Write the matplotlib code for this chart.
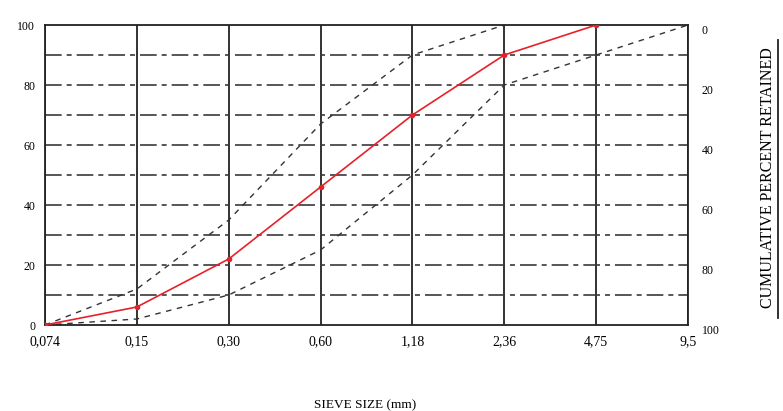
import numpy as np
import matplotlib.pyplot as plt

SIEVES = ["0,074", "0,15", "0,30", "0,60", "1,18", "2,36", "4,75", "9,5"]

# percent passing of the sample (red) - ends at 4,75
SAMPLE = [0, 6, 22, 46, 70, 90, 100]
# grading envelope (dashed)
UPPER = [0, 12, 35, 67, 90, 100]
LOWER = [0, 2, 10, 25, 50, 80, 90, 100]

LEFT_TICKS = [0, 20, 40, 60, 80, 100]
RIGHT_TICKS = [0, 20, 40, 60, 80, 100]

plt.rcParams["font.family"] = ["Liberation Serif", "DejaVu Serif"]

fig = plt.figure(figsize=(7.83, 4.11), dpi=100)
ax = fig.add_axes([45 / 783, 1 - 325 / 411, 643 / 783, 300 / 411])

X = np.arange(len(SIEVES))
ax.set_xlim(0, len(SIEVES) - 1)
ax.set_ylim(0, 100)

# grid: solid verticals, dash-dot horizontals
for x in X:
    ax.axvline(x, color="#222222", lw=1.3, zorder=1)
for y in range(10, 100, 10):
    ax.axhline(y, color="#3a3a3a", lw=1.2, ls=(0, (10, 3, 3, 3)), zorder=1)

ax.plot(X[:len(UPPER)], UPPER, color="#333333", lw=1.0, ls=(0, (4, 4)), zorder=2)
ax.plot(X[:len(LOWER)], LOWER, color="#333333", lw=1.0, ls=(0, (4, 4)), zorder=2)
ax.plot(X[:len(SAMPLE)], SAMPLE, color="#e8202a", lw=1.2, marker="o", ms=3, zorder=3)

ax.set_xticks(X)
ax.set_xticklabels(SIEVES, fontsize=10)
ax.set_yticks(LEFT_TICKS)
ax.set_yticklabels([str(v) for v in LEFT_TICKS], fontsize=8.5)
ax.tick_params(axis="x", length=0, pad=7)
ax.tick_params(axis="y", length=0, pad=7)
for s in ax.spines.values():
    s.set_color("#222222")
    s.set_linewidth(1.3)

ax_r = ax.twinx()
ax_r.set_ylim(100, 0)
ax_r.set_yticks(RIGHT_TICKS)
ax_r.set_yticklabels([str(v) for v in RIGHT_TICKS], fontsize=8.5, va="top")
ax_r.tick_params(length=0, pad=10)
for s in ax_r.spines.values():
    s.set_visible(False)

fig.text(365 / 783, 1 - 405 / 411, "SIEVE SIZE (mm)", ha="center", va="center", fontsize=9.5)
fig.text(768 / 783, 1 - 178 / 411, "CUMULATIVE PERCENT RETAINED", rotation=90,
         ha="center", va="center", fontsize=11.5)
fig.add_artist(plt.Line2D([778 / 783, 778 / 783], [1 - 318 / 411, 1 - 40 / 411],
                          color="#222222", lw=1.3))

fig.savefig("out.png", dpi=100)
